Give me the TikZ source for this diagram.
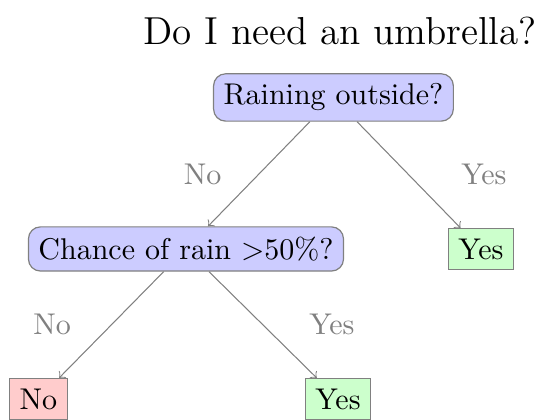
\documentclass[tikz,border=0pt]{standalone}
\usepackage{tikz}
\usetikzlibrary{arrows,positioning}
\tikzset{>=to}
\definecolor{questionblue}{RGB}{204,204,255}
\definecolor{answergreen}{RGB}{204,255,204}
\definecolor{answerred}{RGB}{255,204,204}
\tikzset{
  question/.style={draw=gray, rectangle, rounded corners=4pt, fill=questionblue},
  answer/.style={draw=gray, rectangle},
  choice/.style={text=gray},
  branch/.style={->, draw=gray, line width=0.35pt}
}

\begin{document}
\begin{tikzpicture}
    \useasboundingbox (0,0) rectangle (6.268,-4.920);
    \node (title) at (3.985,-0.36) {\fontsize{13}{16}\selectfont Do I need an umbrella?};
    \node [question] (rain) at (3.907,-1.142) {Raining outside?};
    \node [question] (chance) at (2.179,-2.917) {Chance of rain $>$50\%?};
    \node [answer, fill=answergreen] (yesright) at (5.635,-2.917) {Yes};
    \node [answer, fill=answerred] (noleft) at (0.451,-4.674) {No};
    \node [answer, fill=answergreen] (yesleft) at (3.96,-4.674) {Yes};
    \draw [branch] (rain) -- node[choice, left=9pt]{No} (chance);
    \draw [branch] (rain) -- node[choice, right=14pt]{Yes} (yesright);
    \draw [branch] (chance) -- node[choice, left=10pt]{No} (noleft);
    \draw [branch] (chance) -- node[choice, right=12pt]{Yes} (yesleft);
  \end{tikzpicture}
\end{document}
